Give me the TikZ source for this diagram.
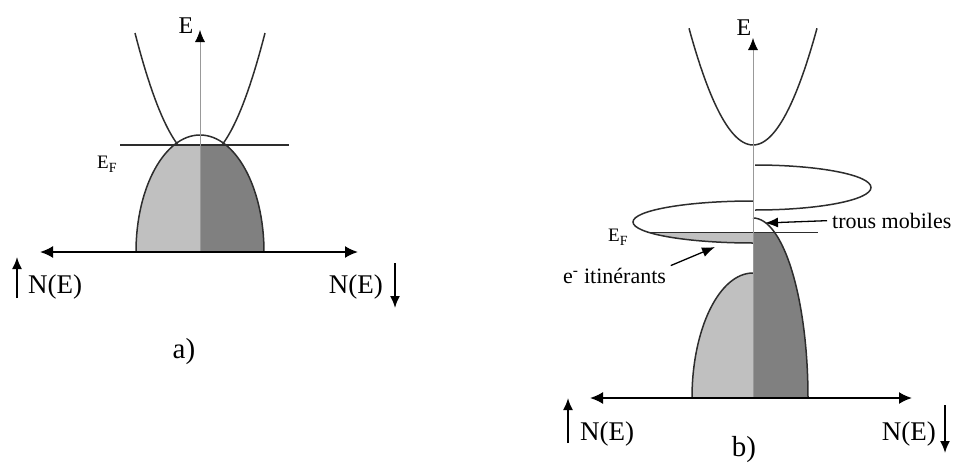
\documentclass[tikz,border=0pt]{standalone}
\usepackage{fontspec}
\setmainfont{Liberation Serif}
\usetikzlibrary{arrows.meta, math, positioning}
\definecolor{spinup}{RGB}{192,192,192}
\definecolor{spindown}{RGB}{128,128,128}
\definecolor{bandline}{RGB}{45,45,45}
\newcommand{\fermi}{E\raisebox{-4pt}{\fontsize{14}{16}\selectfont F}}

\begin{document}
\begin{tikzpicture}[x=1pt, y=-1pt,
  band/.style={line width=1.5pt, color=bandline},
  naxis/.style={line width=1.9pt, {Latex[length=13pt,width=12pt]}-{Latex[length=13pt,width=12pt]}},
  eaxis/.style={line width=0.8pt, color=gray!80, -{Latex[length=12pt,width=10pt,black]}},
  spin/.style={line width=1.8pt, -{Latex[length=12pt,width=10pt]}},
  pointer/.style={line width=1.3pt, shorten <=5pt, -{Latex[length=13pt,width=10pt]}},
  elab/.style={inner sep=0pt, font=\fontsize{24}{28}\selectfont},
  nlab/.style={inner sep=0pt, font=\fontsize{27}{32}\selectfont},
  flab/.style={inner sep=0pt, font=\fontsize{19}{23}\selectfont},
  small/.style={inner sep=0pt, font=\fontsize{22}{26}\selectfont},
  part/.style={inner sep=0pt, font=\fontsize{29}{34}\selectfont}]

\useasboundingbox (0,0) rectangle (954,466);

\tikzmath{
\xa = 200;  % E axis a)
\ya = 252;  % N(E) axis a)
\efa = 145; % Fermi level a)
\xb = 753;
\yb = 398;
\efb = 232;
}

%%%%%% a)
%conduction band
\draw[band] plot[domain=135:265, samples=60] (\x, {159.5-0.02994*(\x-\xa)^2});

%valence band, filled up to E_F
\begin{scope}
\clip (\xa-70,\efa) rectangle (\xa,\ya);
\fill[spinup] (\xa,\ya) ellipse[x radius=64, y radius=117];
\end{scope}
\begin{scope}
\clip (\xa,\efa) rectangle (\xa+70,\ya);
\fill[spindown] (\xa,\ya) ellipse[x radius=64, y radius=117];
\end{scope}
\draw[band] (\xa-64,\ya) arc[start angle=180, end angle=360, x radius=64, y radius=117];

%Fermi level
\coordinate (efa l) at (120,\efa);
\coordinate (efa r) at (289,\efa);
\draw[band] (efa l) -- (efa r);
\node[flab, anchor=base west] (efa) at (97,168) {\fermi};

%axes
\coordinate (ea0) at (\xa,\ya);
\coordinate (ea1) at (\xa,30);
\draw[eaxis] (ea0) -- (ea1);
\node[elab, anchor=base] (ea) at (186,33) {E};
\coordinate (na l) at (40,\ya);
\coordinate (na r) at (358,\ya);
\draw[naxis] (na l) -- (na r);

\node[nlab, anchor=base west] (nupa) at (28,293) {N(E)};
\node[nlab, anchor=base east] (ndowna) at (383,293) {N(E)};
\draw[spin] ([xshift=-11pt, yshift=-5pt]nupa.base west) -- ([xshift=-11pt, yshift=36pt]nupa.base west);
\draw[spin] ([xshift=12pt, yshift=30pt]ndowna.base east) -- ([xshift=12pt, yshift=-15pt]ndowna.base east);

\node[part, anchor=base] (parta) at (184,358) {a)};

%%%%%% b)
%conduction band
\draw[band] plot[domain=689:817, samples=60] (\x, {145-0.0285*(\x-\xb)^2});

%spin-down band above
\draw[band] (\xb+2,165) arc[start angle=-90, end angle=90, x radius=116, y radius=22.5];

%spin-up band crossing E_F
\begin{scope}
\clip (600,\efb) rectangle (\xb,260);
\fill[spinup] (\xb,222) ellipse[x radius=120, y radius=21];
\end{scope}
\draw[band] (\xb,201) arc[start angle=270, end angle=90, x radius=120, y radius=21];

%spin-up band below
\fill[spinup] (\xb,\yb) -- (\xb-61,\yb) arc[start angle=180, end angle=270, x radius=61, y radius=125] -- cycle;
\draw[band] (\xb-61,\yb) arc[start angle=180, end angle=270, x radius=61, y radius=125];

%spin-down band, holes above E_F
\begin{scope}
\clip (\xb,\efb) rectangle (\xb+60,\yb);
\fill[spindown] (\xb,\yb) ellipse[x radius=55, y radius=180];
\end{scope}
\draw[band] (\xb,218) arc[start angle=270, end angle=360, x radius=55, y radius=180];

%Fermi level
\coordinate (efb l) at (647,\efb);
\coordinate (efb r) at (818,\efb);
\draw[band, line width=1pt] (efb l) -- (efb r);
\node[flab, anchor=base west] (efb) at (608,241) {\fermi};

%axes
\coordinate (eb0) at (\xb,\yb);
\coordinate (eb1) at (\xb,38);
\draw[eaxis] (eb0) -- (eb1);
\node[elab, anchor=base] (eb) at (744,35) {E};
\coordinate (nb l) at (590,\yb);
\coordinate (nb r) at (912,\yb);
\draw[naxis] (nb l) -- (nb r);

\node[nlab, anchor=base west] (nupb) at (580,440) {N(E)};
\node[nlab, anchor=base east] (ndownb) at (936,440) {N(E)};
\draw[spin] ([xshift=-12pt, yshift=-3pt]nupb.base west) -- ([xshift=-12pt, yshift=42pt]nupb.base west);
\draw[spin] ([xshift=9pt, yshift=35pt]ndownb.base east) -- ([xshift=9pt, yshift=-13pt]ndownb.base east);

%labels with pointers
\node[small, anchor=base west] (trous) at (832,228) {trous mobiles};
\coordinate (trous tip) at (765,223);
\draw[pointer] (trous.west) -- (trous tip);
\node[small, anchor=base west] (itin) at (563,283) {e\textsuperscript{-} itinérants};
\coordinate (itin tip) at (715,247);
\draw[pointer] (itin.north east) -- (itin tip);

\node[part, anchor=base] (partb) at (744,456) {b)};

\end{tikzpicture}
\end{document}
